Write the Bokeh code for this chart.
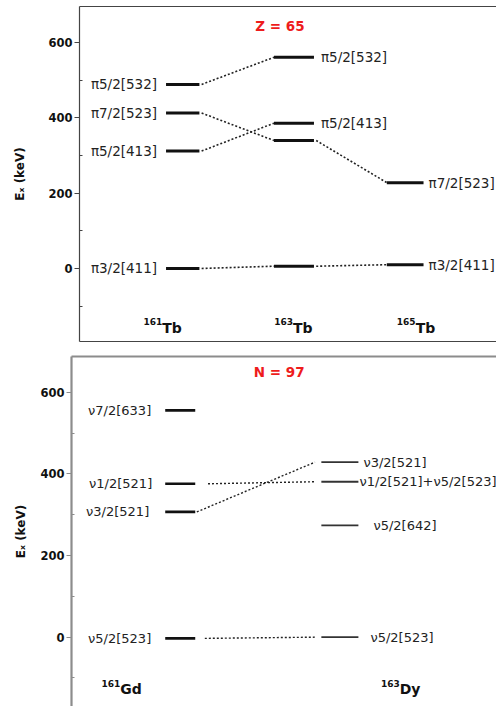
from bokeh.plotting import figure
from bokeh.models import FixedTicker, LinearAxis
from bokeh.layouts import column, row
from bokeh.core.properties import value
from bokeh.embed import file_html
from bokeh.resources import INLINE

FONT = "DejaVu Sans"

# ---------------- data: Z = 65 (Tb isotopes) ----------------
top_title = "Z = 65"
top_mass = ["161", "163", "165"]
top_elem = ["Tb", "Tb", "Tb"]
top_level_col = [0, 0, 0, 0, 1, 1, 1, 1, 2, 2]
top_level_E = [489, 413, 312, 0, 561, 386, 340, 6, 228, 10]
top_level_text = ["π5/2[532]", "π7/2[523]", "π5/2[413]", "π3/2[411]",
                  "π5/2[532]", "π5/2[413]", "", "",
                  "π7/2[523]", "π3/2[411]"]
top_links = [(0, 4), (1, 6), (6, 8), (2, 5), (3, 7), (7, 9)]

# ---------------- data: N = 97 (161Gd, 163Dy) ----------------
bot_title = "N = 97"
bot_mass = ["161", "163"]
bot_elem = ["Gd", "Dy"]
bot_level_col = [0, 0, 0, 0, 1, 1, 1, 1]
bot_level_E = [556, 376, 307, -3, 429, 381, 274, 0]
bot_level_text = ["ν7/2[633]", "ν1/2[521]", "ν3/2[521]", "ν5/2[523]",
                  "ν3/2[521]", "ν1/2[521]+ν5/2[523]", "ν5/2[642]", "ν5/2[523]"]
bot_links = [(1, 5), (2, 4), (3, 7)]

y_major = [0, 200, 400, 600]
y_minor = [-100, 100, 300, 500]


def border_axis(color, width):
    return LinearAxis(ticker=FixedTicker(ticks=[]), axis_line_color=color,
                      axis_line_width=width, major_tick_line_color=None,
                      minor_tick_line_color=None,
                      major_label_text_font_size="0px",
                      major_label_standoff=0, axis_label_standoff=0)


def base_fig(height, xr, yr, left, top, bottom, frame_color, frame_w,
             label_standoff):
    p = figure(width=496, height=height, x_range=xr, y_range=yr,
               output_backend="svg", toolbar_location=None,
               x_axis_location=None,
               min_border_left=left, min_border_right=0,
               min_border_top=top, min_border_bottom=bottom)
    p.outline_line_color = None
    p.grid.visible = False
    p.background_fill_color = "white"
    p.border_fill_color = "white"
    ya = p.yaxis[0]
    ya.ticker = FixedTicker(ticks=y_major, minor_ticks=y_minor)
    ya.axis_line_color = frame_color
    ya.axis_line_width = frame_w
    ya.major_tick_line_color = frame_color
    ya.minor_tick_line_color = frame_color
    ya.major_tick_out = 5
    ya.major_tick_in = 0
    ya.minor_tick_out = 0
    ya.minor_tick_in = 3
    ya.major_label_standoff = 2
    ya.major_label_text_font = FONT
    ya.major_label_text_font_style = "bold"
    ya.major_label_text_font_size = "11.5px"
    ya.major_label_text_color = "#111111"
    ya.axis_label = "Eₓ (keV)"
    ya.axis_label_text_font = FONT
    ya.axis_label_text_font_style = "bold"
    ya.axis_label_text_font_size = "12px"
    ya.axis_label_text_color = "#111111"
    ya.axis_label_standoff = label_standoff
    p.add_layout(border_axis(frame_color, frame_w), "above")
    return p


def draw_levels(p, cols, energies, texts, links, half_w, pads, colors, widths,
                dash_w, gaps, fsize):
    x0 = [c - half_w[c] for c in cols]
    x1 = [c + half_w[c] for c in cols]
    p.segment(x0=x0, y0=energies, x1=x1, y1=energies,
              line_color=[colors[c] for c in cols],
              line_width=[widths[c] for c in cols])
    lx0, ly0, lx1, ly1 = [], [], [], []
    for i, (a, b) in enumerate(links):
        lx0.append(x1[a] + gaps[i][0])
        ly0.append(energies[a])
        lx1.append(x0[b] - gaps[i][1])
        ly1.append(energies[b])
    p.segment(x0=lx0, y0=ly0, x1=lx1, y1=ly1, line_color="#222222",
              line_width=dash_w, line_dash="2 2")
    for i, (c, e, t) in enumerate(zip(cols, energies, texts)):
        if not t:
            continue
        left_side = (c == 0)
        p.text(x=[x0[i] if left_side else x1[i]], y=[e], text=[t],
               text_align="right" if left_side else "left",
               text_baseline="middle",
               x_offset=-pads[i] if left_side else pads[i],
               text_font=value(FONT), text_font_size=fsize,
               text_color="#222222")


def draw_isotopes(p, xs, y, mass, elem):
    p.text(x=xs, y=[y] * len(xs), text=mass, text_align="right",
           text_baseline="alphabetic", y_offset=-6, text_font=value(FONT),
           text_font_size="9px", text_font_style="bold", text_color="#111111")
    p.text(x=xs, y=[y] * len(xs), text=elem, text_align="left",
           text_baseline="alphabetic", text_font=value(FONT),
           text_font_size="14px", text_font_style="bold", text_color="#111111")


# ---------------- top panel ----------------
p1 = base_fig(348, (-0.928, 2.821), (-194, 696), 79, 6, 7, "#444444", 1.2, 18)
p1.add_layout(border_axis("#444444", 1.2), "below")

draw_levels(p1, top_level_col, top_level_E, top_level_text, top_links,
            half_w=[0.15, 0.18, 0.165],
            pads=[9, 9, 9, 9, 7, 7, 7, 7, 5, 5],
            colors=["#111111", "#111111", "#111111"], widths=[3, 3, 3],
            dash_w=1.6, gaps=[(0.02, 0.0)] * len(top_links), fsize="13.5px")
draw_isotopes(p1, [c + o for c, o in zip(range(3), [-0.184, -0.009, 0.094])],
              -157, top_mass, top_elem)
p1.text(x=[0.874], y=[643], text=[top_title], text_align="center",
        text_baseline="middle", text_font=value(FONT), text_font_size="13.5px",
        text_font_style="bold", text_color="#ee1c1c")

# ---------------- bottom panel ----------------
p2 = base_fig(358, (-0.681, 1.981), (-170, 688), 71, 8, 0, "#8c8c8c", 2.2, 9)

draw_levels(p2, bot_level_col, bot_level_E, bot_level_text, bot_links,
            half_w=[0.094, 0.116],
            pads=[14, 13, 16, 14, 5, 1, 15, 12],
            colors=["#111111", "#333333"], widths=[2.6, 1.8],
            dash_w=1.4, gaps=[(0.08, 0.04), (0.01, 0.04), (0.06, 0.03)],
            fsize="13px")
draw_isotopes(p2, [c + o for c, o in zip(range(2), [-0.375, 0.375])],
              -128, bot_mass, bot_elem)
p2.text(x=[0.62], y=[649], text=[bot_title], text_align="center",
        text_baseline="middle", text_font=value(FONT), text_font_size="13.5px",
        text_font_style="bold", text_color="#ee1c1c")

layout = column(row(p1), row(p2), spacing=0)
open("out.html", "w").write(file_html(layout, INLINE))
